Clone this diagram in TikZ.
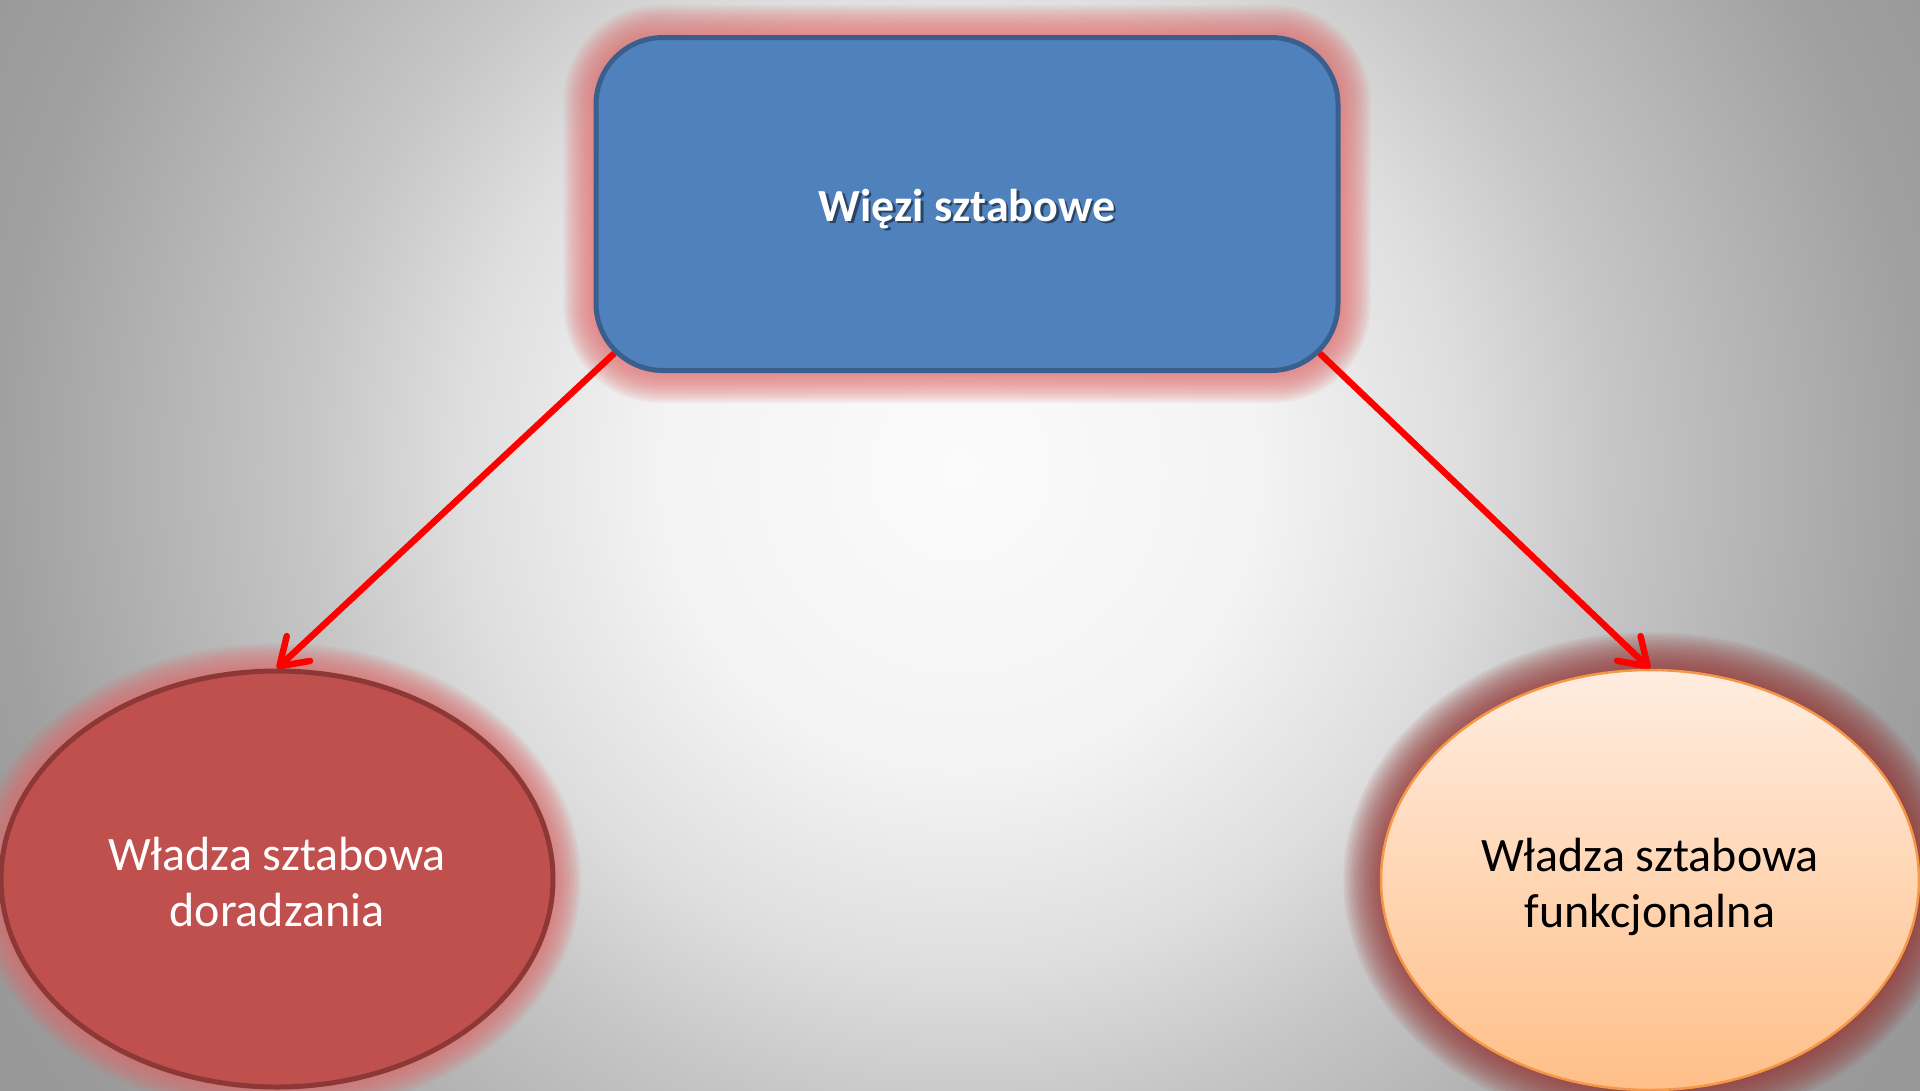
\documentclass[tikz,border=0pt]{standalone}
\usepackage{fontspec}
\setmainfont{Carlito}
\usetikzlibrary{arrows.meta,shapes.geometric,calc}
\pgfdeclarelayer{bg}
\pgfdeclarelayer{glow}
\pgfdeclarelayer{conn}
\pgfsetlayers{bg,glow,conn,main}
\definecolor{bgA}{HTML}{FBFBFB}
\definecolor{bgB}{HTML}{F3F3F3}
\definecolor{bgC}{HTML}{DEDEDE}
\definecolor{bgD}{HTML}{C6C6C6}
\definecolor{bgE}{HTML}{A0A0A0}
\definecolor{bgF}{HTML}{989898}
\definecolor{boxfill}{HTML}{4F81BD}
\definecolor{boxline}{HTML}{3A5F8D}
\definecolor{boxglow}{HTML}{E27474}
\definecolor{redfill}{HTML}{C0504D}
\definecolor{redline}{HTML}{8C3836}
\definecolor{redglow}{HTML}{E06A6A}
\definecolor{peachtop}{HTML}{FFEDE0}
\definecolor{peachbot}{HTML}{FFBF88}
\definecolor{peachline}{HTML}{F79646}
\definecolor{peachglow}{HTML}{943634}
\definecolor{txtshadow}{HTML}{2A4466}
\pgfdeclareradialshading{bgshade}{\pgfpoint{0bp}{0bp}}{color(0bp)=(bgA); color(6bp)=(bgB); color(10bp)=(bgC); color(13bp)=(bgD); color(19.2bp)=(bgE); color(22bp)=(bgF); color(50bp)=(bgF)}
\tikzset{
  topbox/.style={rectangle, rounded corners=67pt, minimum width=742pt, minimum height=333pt,
    inner sep=0pt, fill=boxfill, draw=boxline, line width=5pt, text=white,
    font=\fontsize{46}{55}\selectfont\bfseries},
  leftell/.style={ellipse, minimum width=552pt, minimum height=416pt, inner sep=0pt,
    fill=redfill, draw=redline, line width=5pt, text=white, align=center,
    font=\fontsize{48}{56}\selectfont},
  rightell/.style={ellipse, minimum width=538pt, minimum height=420pt, inner sep=0pt,
    top color=peachtop, bottom color=peachbot, draw=peachline, line width=2.5pt, text=black,
    align=center, font=\fontsize{48}{56}\selectfont},
  link/.style={draw=red, line width=6.5pt, line cap=round,
    -{Straight Barb[length=26pt, width=34pt, line cap=round, line join=round]}},
  glowline/.style={draw opacity=0.085}
}
\begin{document}
\begin{tikzpicture}[x=1pt,y=-1pt]
\useasboundingbox (0,0) rectangle (1920,1090);
\begin{pgfonlayer}{bg}
\begin{scope}
\clip (0,0) rectangle (1920,1090);
\shade[shading=bgshade] (960,470) circle (1250);
\end{scope}
\end{pgfonlayer}

\node[topbox] (box) at (967,204) {\raisebox{-6pt}[\height][\depth]{\makebox[0pt][l]{\hspace{2.5pt}\raisebox{-2.5pt}{\textcolor{txtshadow}{Więzi sztabowe}}}Więzi sztabowe}};
\node[leftell] (lell) at (277,879) {\raisebox{-8pt}[\height][\depth]{\begin{tabular}{@{}c@{}}Władza sztabowa\\doradzania\end{tabular}}};
\node[rightell] (rell) at (1650,880) {\raisebox{-8pt}[\height][\depth]{\begin{tabular}{@{}c@{}}Władza sztabowa\\funkcjonalna\end{tabular}}};

\begin{pgfonlayer}{glow}
\foreach \w in {4,8,...,60}{
  \draw[glowline, draw=boxglow, line width=\w pt, rounded corners=67pt] (box.south west) rectangle (box.north east);
}
\foreach \w in {4,8,...,56}{
  \draw[glowline, draw=redglow, line width=\w pt] (lell.center) ellipse [x radius=276, y radius=208];
}
\foreach \w in {5,10,...,75}{
  \draw[draw=peachglow, draw opacity=0.085, line width=\w pt] (rell.center) ellipse [x radius=269, y radius=210];
}
\end{pgfonlayer}

\begin{pgfonlayer}{conn}
\draw[link] ($(box.south west)+(20,-19)$) -- (lell.north);
\draw[link] ($(box.south east)+(-20,-19)$) -- (rell.north);
\end{pgfonlayer}
\end{tikzpicture}
\end{document}
